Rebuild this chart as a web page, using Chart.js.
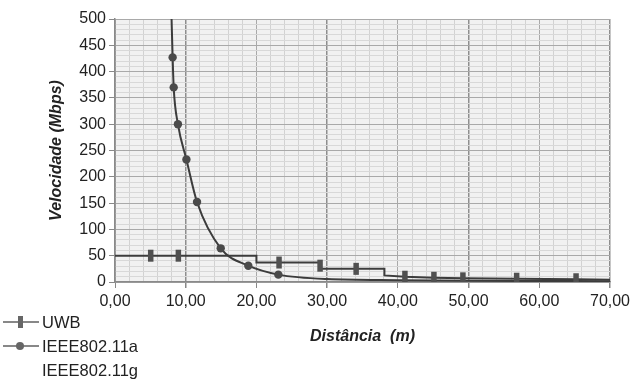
<!DOCTYPE html>
<html>
<head>
<meta charset="utf-8">
<script src="https://cdn.jsdelivr.net/npm/chart.js@4.4.1/dist/chart.umd.min.js"></script>
<style>
  html, body { margin: 0; padding: 0; background: #fff; }
  #wrap { position: relative; width: 640px; height: 390px; }
  #legend { position: absolute; left: 0; top: 310px; font-family: "Liberation Sans", Arial, sans-serif; font-size: 16.5px; color: #222; }
  #legend div { height: 24px; display: flex; align-items: center; }
  #legend svg { width: 42px; height: 20px; flex: none; }
</style>
</head>
<body>
<div id="wrap">
  <canvas id="speedChart" width="640" height="390"></canvas>
  <div id="legend"></div>
</div>
<script>
// --- dados ---
const xTickLabels = ['0,00', '10,00', '20,00', '30,00', '40,00', '50,00', '60,00', '70,00'];

const uwbDist   = [0, 5.05, 8.96, 20, 20, 23.2, 29, 29, 29, 34.1, 38.1, 38.1, 41, 45.1, 49.2, 56.8, 65.2, 70];
const uwbSpeed  = [50, 50, 50, 50, 37, 37, 37, 31, 25, 25, 25, 12.5, 10, 8, 7, 6.2, 5.2, 4.2];
const uwbMarker = [0, 1, 1, 0, 0, 1, 0, 1, 0, 1, 0, 0, 1, 1, 1, 1, 1, 0];

const aDist   = [8.0, 8.15, 8.3, 8.9, 10.1, 11.6, 14.95, 18.85, 23.1, 30, 40, 50, 60, 70];
const aSpeed  = [500, 427, 370, 300, 233, 152, 64, 31, 14, 5.5, 3.5, 2.5, 2, 1.5];
const aMarker = [0, 1, 1, 1, 1, 1, 1, 1, 1, 0, 0, 0, 0, 0];

const seriesNames = ['UWB', 'IEEE802.11a', 'IEEE802.11g'];

const toPoints = (xs, ys) => xs.map((x, i) => ({ x: x, y: ys[i] }));

const FONT = '"Liberation Sans", Arial, sans-serif';
const lineColor = '#3c3c3c';

// fundo cinza da area do grafico
const plotBg = {
  id: 'plotBg',
  beforeDraw(chart) {
    const a = chart.chartArea;
    const c = chart.ctx;
    c.save();
    c.fillStyle = '#f1f1f1';
    c.fillRect(a.left, a.top, a.right - a.left, a.bottom - a.top);
    c.restore();
  }
};

new Chart(document.getElementById('speedChart'), {
  type: 'scatter',
  data: {
    datasets: [
      {
        label: seriesNames[0],
        data: toPoints(uwbDist, uwbSpeed),
        showLine: true,
        borderColor: lineColor,
        borderWidth: 2,
        tension: 0,
        pointStyle: 'line',
        rotation: 90,
        pointRadius: ctx => uwbMarker[ctx.dataIndex] ? 6 : 0,
        pointBorderWidth: 5.5,
        pointBorderColor: '#505050',
        pointBackgroundColor: '#505050'
      },
      {
        label: seriesNames[1],
        data: toPoints(aDist, aSpeed),
        showLine: true,
        borderColor: lineColor,
        borderWidth: 2,
        cubicInterpolationMode: 'monotone',
        pointStyle: 'circle',
        pointRadius: ctx => aMarker[ctx.dataIndex] ? 4.2 : 0,
        pointBorderWidth: 0,
        pointBackgroundColor: '#4a4a4a'
      },
      {
        label: seriesNames[2],
        data: [],
        showLine: false
      }
    ]
  },
  options: {
    responsive: false,
    animation: false,
    layout: { padding: { left: 0, right: 30, top: 19, bottom: 0 } },
    plugins: {
      legend: { display: false },
      tooltip: { enabled: false }
    },
    scales: {
      x: {
        type: 'linear',
        min: 0,
        max: 70,
        afterFit: s => { s.height = 108; },
        ticks: {
          stepSize: 2,
          autoSkip: false,
          maxRotation: 0,
          padding: 4,
          color: '#222',
          font: { family: FONT, size: 16 },
          callback: v => (Math.round(v) % 10 === 0 ? xTickLabels[Math.round(v) / 10] : '')
        },
        grid: {
          color: ctx => {
            const v = Math.round(ctx.tick.value);
            if (v % 20 === 10) return '#8e8e8e';
            if (v % 10 === 0) return '#a9a9a9';
            return '#d2d2d2';
          },
          tickColor: ctx => (Math.round(ctx.tick.value) % 10 === 0 ? '#888' : 'rgba(0,0,0,0)'),
          tickLength: 6,
          lineWidth: ctx => (Math.round(ctx.tick.value) % 20 === 10 ? 1.5 : 1)
        },
        border: { color: '#8a8a8a', width: 1.5 },
        title: {
          display: true,
          text: 'Distância  (m)',
          color: '#222',
          font: { family: FONT, size: 16, weight: 'bold', style: 'italic' },
          padding: { top: 4, bottom: 44 }
        }
      },
      y: {
        min: 0,
        max: 500,
        afterFit: s => { s.width = 115; },
        ticks: {
          stepSize: 10,
          autoSkip: false,
          padding: 3,
          color: '#222',
          font: { family: FONT, size: 16 },
          callback: v => (Math.round(v) % 50 === 0 ? String(Math.round(v)) : '')
        },
        grid: {
          color: ctx => (Math.round(ctx.tick.value) % 50 === 0 ? '#a9a9a9' : '#d8d8d8'),
          tickColor: ctx => (Math.round(ctx.tick.value) % 50 === 0 ? '#888' : 'rgba(0,0,0,0)'),
          tickLength: 6
        },
        border: { color: '#8a8a8a', width: 1.5 },
        title: {
          display: true,
          text: 'Velocidade (Mbps)',
          color: '#222',
          font: { family: FONT, size: 16, weight: 'bold', style: 'italic' },
          padding: { top: 47, bottom: 4 }
        }
      }
    }
  },
  plugins: [plotBg]
});

// legenda em HTML (canto inferior esquerdo)
const swatches = [
  '<svg viewBox="0 0 42 20"><line x1="3" y1="10" x2="39" y2="10" stroke="#888" stroke-width="2"/><rect x="18" y="4" width="5" height="12" fill="#666"/></svg>',
  '<svg viewBox="0 0 42 20"><line x1="3" y1="10" x2="39" y2="10" stroke="#888" stroke-width="2"/><circle cx="20" cy="10" r="4" fill="#666"/></svg>',
  '<svg viewBox="0 0 42 20"></svg>'
];
document.getElementById('legend').innerHTML = seriesNames
  .map((name, i) => '<div>' + swatches[i] + '<span>' + name + '</span></div>')
  .join('');
</script>
</body>
</html>
